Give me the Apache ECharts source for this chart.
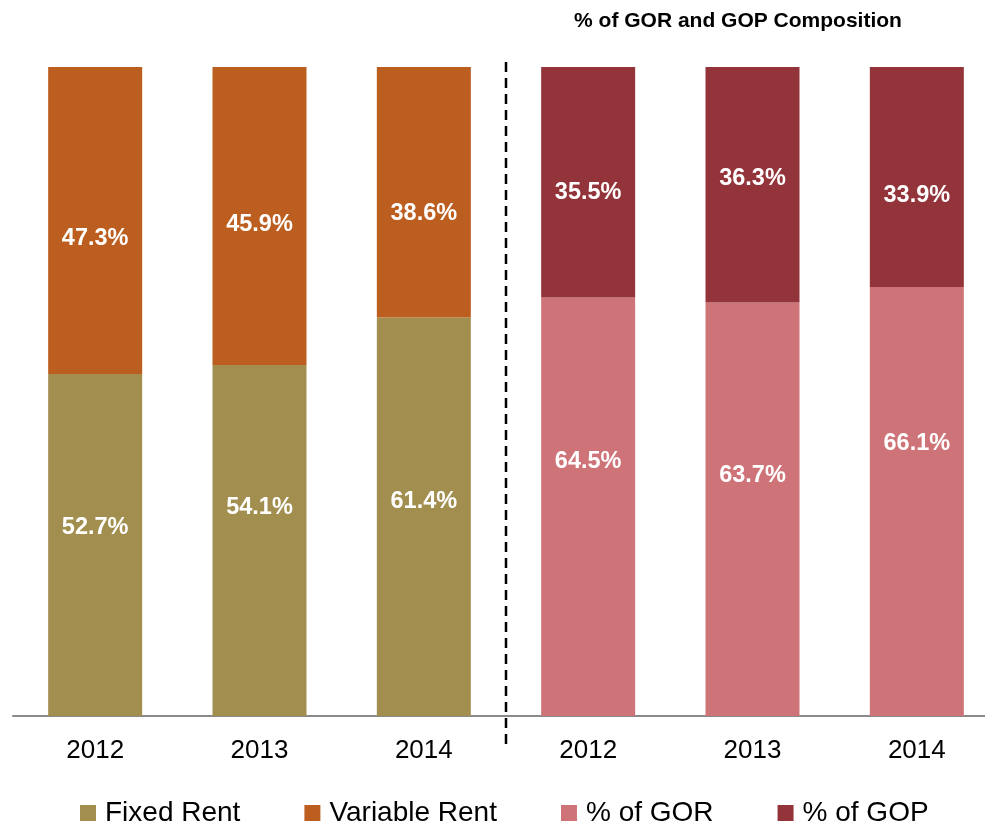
<!DOCTYPE html>
<html>
<head>
<meta charset="utf-8">
<script src="https://cdn.jsdelivr.net/npm/echarts@6/dist/echarts.min.js"></script>
<style>
  html, body { margin: 0; padding: 0; background: #fff; }
  #chart { width: 985px; height: 825px; }
</style>
</head>
<body>
<div id="chart"></div>
<script>
// Category labels: three years of rent split, then three years of GOR/GOP split
const years = ['2012', '2013', '2014', '2012', '2013', '2014'];

// Rent composition (%)
const fixedRent    = [52.7, 54.1, 61.4, '-', '-', '-'];
const variableRent = [47.3, 45.9, 38.6, '-', '-', '-'];

// % of GOR and GOP composition (%)
const pctGOR = ['-', '-', '-', 64.5, 63.7, 66.1];
const pctGOP = ['-', '-', '-', 35.5, 36.3, 33.9];

const chartTitle = '% of GOR and GOP Composition';

// vertical nudges for the value labels inside each segment
const fixedOffsets    = [-17, -33, -15, 0, 0, 0];
const variableOffsets = [18, 9, 21, 0, 0, 0];
const gorOffsets      = [0, 0, 0, -45, -34, -58];
const gopOffsets      = [0, 0, 0, 10, -6, 19];

const FONT = 'Liberation Sans, Arial, sans-serif';

function withLabels(values, offsets) {
  return values.map((v, i) => v === '-' ? '-' : {
    value: v,
    label: { offset: [0, offsets[i]] }
  });
}

function barSeries(name, values, offsets, color) {
  return {
    name: name,
    type: 'bar',
    stack: 'total',
    barWidth: 94,
    data: withLabels(values, offsets),
    itemStyle: { color: color },
    label: {
      show: true,
      position: 'inside',
      color: '#ffffff',
      fontFamily: FONT,
      fontWeight: 'bold',
      fontSize: 23.5,
      formatter: p => p.value.toFixed(1) + '%'
    },
    emphasis: { disabled: true }
  };
}

const chart = echarts.init(document.getElementById('chart'), null, { renderer: 'canvas' });

chart.setOption({
  animation: false,
  backgroundColor: '#ffffff',
  grid: {
    left: 13, width: 986, top: 67, bottom: 109,
    containLabel: false,
    outerBoundsMode: 'none'
  },
  xAxis: {
    type: 'category',
    data: years,
    axisLine: { show: true, lineStyle: { color: '#8a8a8a', width: 2 } },
    axisTick: { show: false },
    axisLabel: {
      color: '#000000',
      fontFamily: FONT,
      fontSize: 26,
      margin: 22
    }
  },
  yAxis: {
    type: 'value',
    min: 0,
    max: 100,
    show: false,
    splitLine: { show: false }
  },
  legend: {
    left: 80,
    top: 799,
    padding: 0,
    itemWidth: 16,
    itemHeight: 16,
    itemGap: 64,
    icon: 'rect',
    textStyle: { color: '#000000', fontFamily: FONT, fontSize: 28, padding: [0, 0, 0, 4] },
    data: ['Fixed Rent', 'Variable Rent', '% of GOR', '% of GOP']
  },
  series: [
    barSeries('Fixed Rent', fixedRent, fixedOffsets, '#A28F4F'),
    barSeries('Variable Rent', variableRent, variableOffsets, '#BC5E1F'),
    barSeries('% of GOR', pctGOR, gorOffsets, '#CE7478'),
    barSeries('% of GOP', pctGOP, gopOffsets, '#93333A')
  ]
});

// Dashed divider halfway between the two groups, plus the right-hand heading
const xLeft = chart.convertToPixel({ xAxisIndex: 0 }, 2);
const xRight = chart.convertToPixel({ xAxisIndex: 0 }, 3);
const xMid = (xLeft + xRight) / 2;

chart.setOption({
  graphic: [
    {
      type: 'line',
      shape: { x1: xMid, y1: 62, x2: xMid, y2: 744 },
      style: { stroke: '#000000', lineWidth: 2.5, lineDash: [10, 6] },
      z: 10
    },
    {
      type: 'text',
      x: 738,
      y: 21,
      style: {
        text: chartTitle,
        fill: '#000000',
        font: 'bold 21px ' + FONT,
        textAlign: 'center',
        textVerticalAlign: 'middle'
      }
    }
  ]
});
</script>
</body>
</html>
